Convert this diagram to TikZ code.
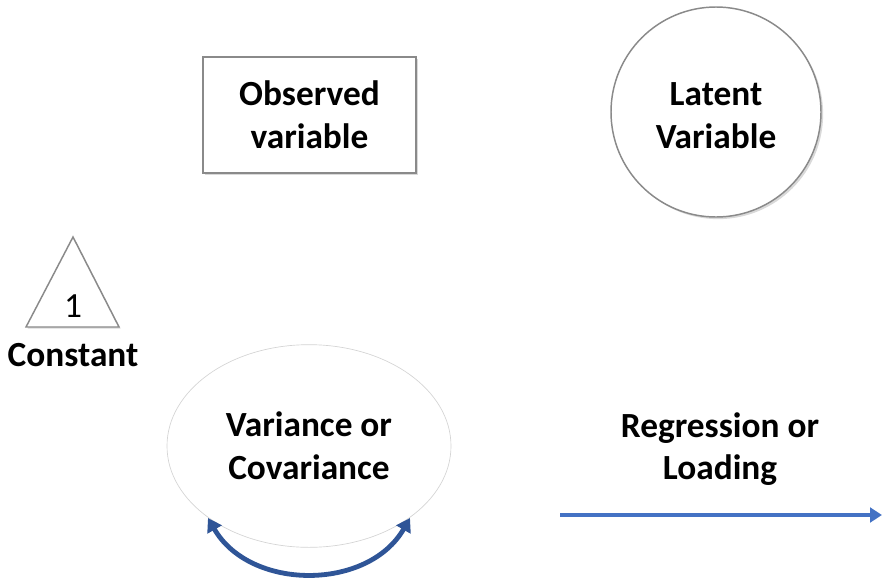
\documentclass[tikz,border=0pt]{standalone}
\usepackage{fontspec}
\setmainfont{Carlito}
\usetikzlibrary{shapes.geometric,arrows.meta,shadows}
\definecolor{bordergray}{HTML}{8A8A8A}
\definecolor{ellgray}{HTML}{D4D4D4}
\definecolor{darkblue}{HTML}{2F5597}
\definecolor{midblue}{HTML}{4472C4}
\tikzset{
  shd/.style={drop shadow={shadow xshift=1.6pt,shadow yshift=-1.6pt,opacity=0.3,fill=black!50}},
  lbl/.style={font=\fontsize{26.5}{32}\selectfont\bfseries,align=center,inner sep=0pt},
  obsbox/.style={draw=bordergray,line width=1.1pt,fill=white,rectangle,minimum width=159.75pt,minimum height=87pt,shd},
  latcirc/.style={draw=bordergray,line width=1.1pt,fill=white,circle,minimum size=157.5pt,shd},
  varell/.style={draw=ellgray,line width=0.5pt,fill=white,ellipse,minimum width=213pt,minimum height=152pt},
  covarrow/.style={draw=darkblue,line width=3.6pt,{Triangle[length=10pt,width=12pt]}-{Triangle[length=10pt,width=12pt]}},
  regarrow/.style={draw=midblue,line width=3.4pt,-{Triangle[length=9pt,width=11pt]}}
}
\begin{document}
\begin{tikzpicture}[x=0.75pt,y=-0.75pt]
\useasboundingbox (0,0) rectangle (882,579);
% observed variable
\node[obsbox,lbl] (obs) at (309.5,115) {Observed\\variable};
% latent variable
\node[latcirc,lbl] (lat) at (716,112) {};
\node[lbl] (lattext) at (716,116) {Latent\\Variable};
% constant triangle
\fill[black!50,opacity=0.3,shift={(1.6,1.6)}] (73,237) -- (119,327) -- (26,327) -- cycle;
\draw[bordergray,line width=1.1pt,fill=white] (73,237) -- (119,327) -- (26,327) -- cycle;
\node[font=\fontsize{26.5}{31}\selectfont,anchor=base,inner sep=0pt] (one) at (73,317) {1};
\node[lbl,anchor=base] (const) at (73,366) {Constant};
% variance / covariance
\node[varell,lbl] (var) at (309,446) {Variance or\\Covariance};
\coordinate (vl) at (208,518);
\coordinate (vr) at (410,518);
\draw[covarrow] (vl) .. controls (250,591) and (368,591) .. (vr);
% regression / loading
\node[lbl] (reg) at (720,449) {Regression or\\Loading};
\coordinate (ra) at (560,515);
\coordinate (rb) at (882,515);
\draw[regarrow] (ra) -- (rb);
\end{tikzpicture}
\end{document}
